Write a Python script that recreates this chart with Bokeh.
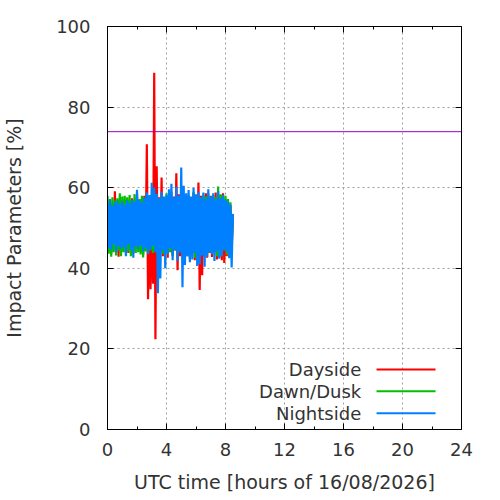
from bokeh.plotting import figure
from bokeh.models import (LinearAxis, FixedTicker, Span, Label, Range1d,
                          CustomJSTickFormatter)
from bokeh.embed import file_html
from bokeh.resources import INLINE

# ---------------- data ----------------
minutes = list(range(0, 515, 5))          # 0 .. 510 min (0 .. 8.5 h)
hours = [m / 60 for m in minutes]

dayside = [
    55.0, 44.0, 56.0, 43.5, 55.5, 45.0, 59.1, 44.6, 56.5, 42.9, 55.8, 45.2,
    56.4, 44.2, 57.0, 45.0, 55.6, 43.8, 56.8, 44.6, 57.4, 43.6, 56.0, 44.8,
    58.6, 45.0, 56.6, 44.0, 57.2, 43.4, 58.0, 44.6, 70.8, 32.3, 57.4, 34.8,
    58.0, 36.2, 88.5, 22.4, 65.3, 41.0, 57.6, 44.0, 62.5, 43.0, 57.0, 44.2,
    57.4, 42.6, 58.2, 44.0, 59.0, 43.2, 57.8, 44.4, 63.6, 39.5, 58.4, 43.0,
    57.6, 44.0, 58.4, 42.8, 57.2, 43.6, 58.0, 42.4, 57.4, 43.8, 58.8, 42.0,
    57.0, 43.4, 61.3, 34.6, 58.0, 38.3, 57.4, 43.0, 58.6, 42.6, 57.2, 43.8,
    58.0, 42.8, 57.4, 44.0, 58.8, 42.2, 57.6, 43.6, 58.2, 42.0, 58.6, 41.3,
    57.0, 43.0, 56.4, 44.2, 55.6, 44.8, 53.0,
]
dawn_dusk = [
    58.0, 43.6, 57.2, 42.9, 57.6, 44.0, 56.8, 43.2, 57.4, 44.4, 58.6, 43.0,
    57.8, 44.0, 58.0, 43.4, 57.6, 44.2, 58.2, 43.0, 57.0, 44.6, 58.4, 43.8,
    57.6, 44.0, 57.2, 43.4, 58.0, 42.7, 57.4, 44.2, 58.6, 43.6, 57.8, 44.4,
    58.2, 43.8, 57.6, 44.6, 58.4, 43.2, 57.0, 44.0, 58.0, 43.6, 57.4, 44.8,
    58.6, 43.4, 57.8, 44.2, 58.2, 43.0, 57.4, 44.4, 58.0, 43.6, 57.2, 44.0,
    57.6, 43.2, 58.4, 44.6, 57.8, 43.0, 58.2, 44.2, 57.4, 43.8, 58.8, 42.6,
    57.2, 44.0, 58.0, 43.4, 57.6, 44.6, 58.2, 43.2, 57.8, 42.8, 58.6, 44.0,
    57.4, 43.6, 58.2, 44.2, 57.6, 43.0, 60.3, 42.6, 58.4, 43.8, 57.6, 44.4,
    58.0, 43.4, 57.2, 44.0, 56.4, 45.0, 53.5,
]
nightside = [
    56.0, 45.0, 57.0, 44.5, 55.5, 46.0, 56.4, 44.0, 56.8, 45.5, 56.0, 44.8,
    56.6, 45.2, 55.8, 43.0, 56.9, 46.0, 56.2, 44.5, 57.0, 42.6, 56.5, 45.5,
    59.5, 44.8, 57.0, 45.6, 56.4, 44.2, 57.6, 45.0, 58.8, 43.5, 58.2, 44.6,
    61.2, 45.5, 60.0, 44.0, 58.5, 33.8, 57.4, 37.5, 59.0, 44.5, 57.8, 40.0,
    58.2, 43.6, 59.6, 45.0, 61.0, 42.0, 57.6, 44.6, 60.2, 41.8, 58.0, 44.0,
    65.0, 35.3, 60.5, 40.8, 58.6, 43.0, 59.4, 41.5, 57.8, 42.2, 60.0, 43.8,
    58.4, 40.6, 59.0, 41.0, 57.6, 43.2, 58.8, 40.4, 57.2, 42.8, 59.6, 44.0,
    57.8, 43.5, 58.6, 41.8, 57.0, 44.2, 59.2, 42.4, 57.4, 43.0, 58.2, 44.6,
    57.0, 44.0, 56.6, 42.5, 55.8, 40.2, 53.5,
]
series_names = ["Dayside", "Dawn/Dusk", "Nightside"]
series_colors = ["#ff0000", "#00c000", "#0080ff"]
threshold = 73.9

x_ticks = [0, 4, 8, 12, 16, 20, 24]
x_minor = [2, 6, 10, 14, 18, 22]
y_ticks = [0, 20, 40, 60, 80, 100]

# ---------------- figure ----------------
FONT = "DejaVu Sans"
TXT = "#333333"

p = figure(width=484, height=492, frame_width=354, frame_height=403,
           min_border_left=99, min_border_right=31, min_border_top=26,
           min_border_bottom=63,
           x_range=Range1d(0, 24), y_range=Range1d(0, 100),
           output_backend="svg", toolbar_location=None,
           x_axis_label="UTC time [hours of 16/08/2026]",
           y_axis_label="Impact Parameters [%]")
p.background_fill_color = "white"
p.border_fill_color = "white"
p.outline_line_color = "black"
p.outline_line_width = 1

for ax in p.xaxis:
    ax.ticker = FixedTicker(ticks=x_ticks, minor_ticks=x_minor)
for ax in p.yaxis:
    ax.ticker = FixedTicker(ticks=y_ticks)

def style_axis(ax):
    ax.axis_line_color = "black"
    ax.major_tick_in = 6
    ax.major_tick_out = 0
    ax.minor_tick_in = 3
    ax.minor_tick_out = 0
    ax.major_tick_line_color = "black"
    ax.minor_tick_line_color = "black"
    ax.major_label_text_font = FONT
    ax.major_label_text_font_size = "18px"
    ax.major_label_text_color = TXT
    ax.axis_label_text_font = FONT
    ax.axis_label_text_font_size = "19px"
    ax.axis_label_text_font_style = "normal"
    ax.axis_label_text_color = TXT

for ax in p.xaxis + p.yaxis:
    style_axis(ax)
p.xaxis.major_label_standoff = 13
p.xaxis.axis_label_standoff = 12
p.yaxis.major_label_standoff = 17
p.yaxis.axis_label_standoff = 28

# mirror axes (ticks only)
empty = CustomJSTickFormatter(code="return ''")
top = LinearAxis(ticker=FixedTicker(ticks=x_ticks, minor_ticks=x_minor),
                 formatter=empty)
right = LinearAxis(ticker=FixedTicker(ticks=y_ticks), formatter=empty)
for ax in (top, right):
    style_axis(ax)
    ax.major_label_standoff = 0
p.add_layout(top, "above")
p.add_layout(right, "right")

p.xgrid.ticker = FixedTicker(ticks=x_ticks)
p.ygrid.ticker = FixedTicker(ticks=y_ticks)
for g in (p.xgrid, p.ygrid):
    g.grid_line_color = "#a0a0a0"
    g.grid_line_dash = "2 3"
    g.grid_line_width = 1

# data
for vals, col in zip([dayside, dawn_dusk, nightside], series_colors):
    p.line(hours, vals, line_color=col, line_width=2.2)

p.add_layout(Span(location=threshold, dimension="width",
                  line_color="#9400d3", line_width=1))

# legend (label left, sample right, as in the reference)
leg_y = [14.9, 9.5, 4.05]
for name, col, yy in zip(series_names, series_colors, leg_y):
    p.add_layout(Label(x=17.2, y=yy, text=name, text_align="right",
                       text_baseline="middle", text_font=FONT,
                       text_font_size="18px", text_color=TXT))
    p.segment(x0=[18.24], y0=[yy], x1=[22.24], y1=[yy],
              line_color=col, line_width=2)

open("out.html", "w").write(file_html(p, INLINE))
